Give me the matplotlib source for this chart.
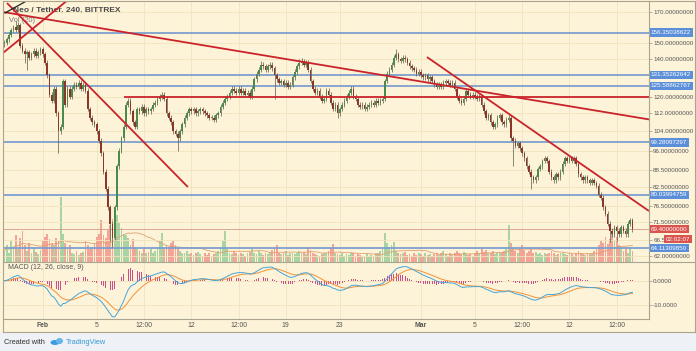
import numpy as np
import pandas as pd
import matplotlib
matplotlib.use('Agg')
import matplotlib.pyplot as plt
import matplotlib.transforms as mtransforms
from matplotlib.patches import Rectangle, Ellipse
from matplotlib.lines import Line2D
from matplotlib.ticker import FixedLocator, NullLocator

W, H = 696, 351

# 4h candles starting 2018-01-29 04:00 (NEO / USDT, Bittrex)
start_time = '2018-01-29 04:00'
first_open = 149
closes = [
    150, 152, 155, 158, 160, 158, 161, 148, 145, 143,
    144, 141, 143, 145, 142, 144, 146, 143, 138, 131,
    121, 118, 124, 112, 104, 106, 128, 116, 124, 120,
    124, 126, 125, 127, 124, 126, 123, 114, 110, 108,
    107, 104, 100, 95, 88, 82, 76, 71, 67, 76,
    90, 96, 101, 106, 116, 118, 113, 108, 106, 114,
    113, 115, 112, 114, 113, 114, 116, 117, 119, 120,
    121, 119, 112, 110, 108, 104, 103, 101, 104, 107,
    110, 112, 114, 113, 114, 112, 113, 114, 113, 112,
    111, 110, 110, 109, 111, 112, 115, 117, 119, 120,
    122, 124, 123, 122, 124, 122, 123, 121, 122, 120,
    124, 129, 132, 134, 137, 136, 134, 136, 137, 135,
    131, 129, 127, 128, 126, 127, 125, 126, 130, 133,
    136, 138, 139, 137, 138, 134, 128, 124, 122, 123,
    120, 118, 119, 123, 121, 117, 114, 116, 112, 114,
    116, 118, 120, 122, 124, 120, 119, 116, 115, 116,
    114, 115, 116, 117, 116, 118, 117, 118, 119, 128,
    132, 134, 137, 141, 143, 140, 139, 141, 140, 138,
    136, 135, 134, 132, 133, 131, 130, 131, 129, 130,
    128, 126, 125, 126, 125, 127, 128, 127, 126, 127,
    124, 120, 118, 117, 119, 123, 121, 120, 121, 120,
    119, 120, 116, 113, 110, 111, 108, 106, 107, 110,
    111, 108, 107, 109, 110, 101, 100, 98, 99, 97,
    95, 93, 90, 88, 86, 85, 86, 89, 90, 92,
    93, 92, 88, 86, 85, 87, 86, 88, 91, 93,
    92, 93, 92, 93, 91, 87, 86, 85, 86, 85,
    84, 85, 84, 83, 80, 79, 76, 74, 71, 69,
    68, 70, 69, 68, 70, 69, 68, 71, 72, 69.4,
]
# long wicks that stand out (candle index -> price)
wick_hi = {5: 164, 6: 163, 114: 139, 131: 140, 132: 141, 174: 146}
wick_lo = {9: 138, 10: 134, 24: 95, 47: 66, 48: 64.5, 77: 96, 120: 119,
           148: 110, 226: 90, 234: 82, 269: 65.8, 272: 66}
volumes = [
    12, 18, 10, 22, 15, 28, 14, 25, 33, 18,
    12, 20, 9, 16, 11, 8, 13, 22, 26, 29,
    24, 20, 18, 25, 22, 69, 30, 20, 15, 18,
    10, 8, 12, 7, 9, 11, 22, 18, 14, 16,
    20, 26, 30, 44, 28, 25, 34, 39, 45, 38,
    49, 42, 36, 30, 28, 25, 18, 24, 16, 14,
    12, 10, 15, 9, 11, 14, 10, 12, 16, 22,
    31, 14, 18, 16, 20, 22, 18, 15, 12, 10,
    9, 12, 8, 10, 7, 9, 11, 8, 6, 10,
    7, 9, 6, 8, 10, 12, 15, 22, 33, 14,
    10, 8, 12, 9, 7, 10, 8, 6, 9, 11,
    14, 10, 8, 12, 9, 7, 10, 8, 11, 13,
    15, 18, 10, 8, 9, 12, 7, 10, 9, 8,
    10, 12, 9, 11, 8, 15, 13, 10, 8, 7,
    6, 8, 10, 9, 12, 15, 19, 10, 8, 7,
    9, 6, 8, 7, 10, 9, 6, 8, 7, 5,
    6, 8, 5, 7, 6, 9, 10, 12, 16, 31,
    20, 14, 18, 21, 12, 10, 8, 9, 11, 7,
    8, 6, 9, 7, 10, 8, 6, 9, 7, 8,
    6, 8, 9, 7, 10, 12, 8, 6, 9, 7,
    9, 12, 10, 8, 11, 9, 7, 8, 6, 10,
    12, 9, 15, 11, 13, 10, 9, 12, 8, 10,
    9, 11, 12, 14, 39, 20, 15, 12, 10, 14,
    18, 13, 10, 12, 14, 9, 11, 8, 10, 7,
    9, 8, 10, 12, 9, 7, 8, 10, 9, 8,
    7, 9, 8, 6, 10, 12, 9, 8, 7, 9,
    8, 10, 12, 14, 18, 22, 20, 26, 19, 24,
    30, 22, 26, 18, 15, 12, 14, 10, 16, 12,
]

support_levels = [156.35038622, 131.35262642, 125.58862767,
                  99.28097297, 80.03994759, 64.11309850]
price_ticks = [170, 150, 140, 120, 112, 104, 96, 88.5, 82.5, 76.5, 71.5, 66.5, 62]
tick_times = ['2018-02-01 00:00', '2018-02-05 00:00', '2018-02-08 12:00',
              '2018-02-12 00:00', '2018-02-15 12:00', '2018-02-19 00:00',
              '2018-02-23 00:00', '2018-03-01 00:00', '2018-03-05 00:00',
              '2018-03-08 12:00', '2018-03-12 00:00', '2018-03-15 12:00']
tick_labels = ['Feb', '5', '12:00', '12', '12:00', '19', '23', 'Mar', '5', '12:00', '12', '12:00']
# user drawn trend lines: ((candle index, price), (candle index, price))
red_lines = [((-0.64, 170.2), (286.36, 109.2)),
             ((1.14, 176.6), (81.5, 82.6)),
             ((-0.64, 143.7), (28.2, 178.9)),
             ((53.1, 120.0), (286.36, 120.0)),
             ((187.7, 141.3), (286.36, 74.8))]
black_line = ((0.25, 169.5), (9.13, 177.5))
last_price = 69.4
countdown = '02:02:07'

BG = '#fdf3d8'
GRID = '#f3e3bd'
FRAME = '#aaa591'
UP, DOWN, WICK = '#4a8a4c', '#8a3628', '#6a6656'
VUP, VDOWN = '#a9d3a2', '#f2a596'
BLUE, RED = '#5b8fd9', '#d9534f'
LINE_RED, LINE_BLUE = '#c9242b', '#7d9fcf'
TXT = '#555555'
AXFS = 4.5
plt.rcParams['font.family'] = 'Liberation Sans'

fig = plt.figure(figsize=(W / 100, H / 100), dpi=100)
fig.patch.set_facecolor('#eef1f5')


def fx(px):
    return px / W


def fy(py):
    return 1 - py / H


fig.patches.append(Rectangle((0, fy(332)), fx(695), 332 / H, transform=fig.transFigure,
                             facecolor=BG, edgecolor='none', zorder=-5))

xlim = (-0.64, 286.36)
vol_ax = fig.add_axes([fx(3), fy(262), fx(646), 261 / H])
ax = fig.add_axes([fx(3), fy(262), fx(646), 261 / H], sharex=vol_ax)
macd_ax = fig.add_axes([fx(3), fy(319), fx(646), 57 / H], sharex=vol_ax)
vol_ax.set_facecolor(BG)
ax.patch.set_visible(False)
macd_ax.set_facecolor(BG)

n = len(closes)
x = np.arange(n)
c = np.array(closes, dtype=float)
o = np.array([first_open] + closes[:-1], dtype=float)
up = c >= o
hi = np.maximum(o, c) * 1.01
lo = np.minimum(o, c) * 0.99
for k, v in wick_hi.items():
    hi[k] = v
for k, v in wick_lo.items():
    lo[k] = v

t0 = pd.Timestamp(start_time)
tick_pos = (pd.to_datetime(tick_times) - t0) / pd.Timedelta(hours=4)

# volume
vol = np.array(volumes, dtype=float)
vol_ax.bar(x, vol, width=0.8, color=np.where(up, VUP, VDOWN), linewidth=0)
vol_ma = pd.Series(vol).rolling(20, min_periods=1).mean()
vol_ax.plot(x, vol_ma, color='#e0a070', lw=0.6)
vol_ax.set_ylim(0, 275)
vol_ax.yaxis.set_visible(False)
vol_ax.set_xticks(tick_pos)
vol_ax.grid(True, axis='x', color=GRID, lw=0.6)
vol_ax.set_axisbelow(True)
vol_ax.tick_params(axis='x', length=0, labelbottom=False)

# price panel
ax.set_yscale('log')
ax.set_ylim(60.6, 178.1)
ax.set_xlim(*xlim)
ax.yaxis.tick_right()
ax.yaxis.set_major_locator(FixedLocator(price_ticks))
ax.yaxis.set_minor_locator(NullLocator())
ax.set_yticklabels([f'{p:.8f}' for p in price_ticks])
ax.tick_params(axis='y', length=2, width=0.6, pad=1, color=FRAME, labelsize=AXFS, labelcolor=TXT)
ax.tick_params(axis='x', length=0, labelbottom=False)
ax.grid(True, axis='y', color=GRID, lw=0.6)
for lvl in support_levels:
    ax.axhline(lvl, color=LINE_BLUE, lw=1.3, zorder=2)
ax.axhline(last_price, color='#d69a8a', lw=0.6, zorder=2)

ax.vlines(x, lo, hi, color=WICK, lw=0.55, zorder=3)
body_h = np.maximum(np.abs(c - o), 0.15)
ax.bar(x, body_h, bottom=np.minimum(o, c), width=0.72,
       color=np.where(up, UP, DOWN), linewidth=0, zorder=4)

for (x1, y1), (x2, y2) in red_lines:
    ax.plot([x1, x2], [y1, y2], color=LINE_RED, lw=1.3, zorder=5, solid_capstyle='butt')
(bx1, by1), (bx2, by2) = black_line
ax.plot([bx1, bx2], [by1, by2], color='#222222', lw=0.9, zorder=5)

ax.text(0.015, 0.966, 'Neo / Tether, 240, BITTREX', transform=ax.transAxes, fontsize=6.0,
        fontweight='bold', color='#4a4a4a', va='center', zorder=1)
ax.text(0.009, 0.927, 'Vol (20)', transform=ax.transAxes, fontsize=5.4,
        color='#777777', va='center', zorder=1)

blend = mtransforms.blended_transform_factory(ax.transAxes, ax.transData)
for lvl in support_levels:
    ax.text(1.003, lvl, f'{lvl:.8f}', transform=blend, fontsize=AXFS, color='white',
            va='center', ha='left', zorder=10,
            bbox=dict(boxstyle='square,pad=0.25', fc=BLUE, ec='none'))
ax.text(1.003, last_price, f'{last_price:.8f}', transform=blend, fontsize=AXFS, color='white',
        va='center', ha='left', zorder=10,
        bbox=dict(boxstyle='square,pad=0.25', fc=RED, ec='none'))
ax.annotate(countdown, xy=(1.0, last_price), xycoords=blend, xytext=(12, -7.2),
            textcoords='offset points', fontsize=AXFS, color='white', va='center', ha='left',
            annotation_clip=False, zorder=10,
            bbox=dict(boxstyle='square,pad=0.25', fc=RED, ec='none'))

# MACD panel
s = pd.Series(c)
macd = s.ewm(span=12, adjust=False).mean() - s.ewm(span=26, adjust=False).mean()
signal = macd.ewm(span=9, adjust=False).mean()
hist = macd - signal
macd_ax.bar(x, hist, width=0.4, color='#c9508a', linewidth=0)
macd_ax.plot(x, signal, color='#f39237', lw=0.7)
macd_ax.plot(x, macd, color='#45a5d8', lw=0.7)
macd_ax.set_ylim(-15.57, 7.6)
macd_ax.yaxis.tick_right()
macd_ax.set_yticks([0, -10])
macd_ax.set_yticklabels(['0.0000', '-10.0000'])
macd_ax.tick_params(axis='y', length=2, width=0.6, pad=1, color=FRAME, labelsize=AXFS, labelcolor=TXT)
macd_ax.set_xticks(tick_pos)
macd_ax.set_xticklabels(tick_labels)
macd_ax.tick_params(axis='x', length=0, pad=2.5, labelsize=4.9, labelcolor=TXT)
for lab in macd_ax.get_xticklabels():
    if lab.get_text() in ('Feb', 'Mar'):
        lab.set_fontweight('bold')
macd_ax.grid(True, color=GRID, lw=0.6)
macd_ax.set_axisbelow(True)
macd_ax.set_xlim(*xlim)
macd_ax.text(0.008, 0.9, 'MACD (12, 26, close, 9)', transform=macd_ax.transAxes,
             fontsize=5.0, color=TXT, va='center')

for a in (vol_ax, ax, macd_ax):
    for sp in a.spines.values():
        sp.set_visible(False)

# frame lines
frame = [((3, 1), (695, 1)), ((3, 1), (3, 332)), ((695, 1), (695, 332)),
         ((3, 332), (695, 332)), ((649, 1), (649, 319)), ((3, 262), (695, 262)),
         ((3, 319), (649, 319))]
for (x1, y1), (x2, y2) in frame:
    fig.lines.append(Line2D([fx(x1), fx(x2)], [fy(y1), fy(y2)], transform=fig.transFigure,
                            color=FRAME, lw=0.8, zorder=6))

# footer
fig.text(fx(4), fy(342), 'Created with', fontsize=5.3, color='#333333', va='center')
fig.patches.append(Ellipse((fx(55), fy(342.5)), fx(9), 5 / H, transform=fig.transFigure,
                           facecolor='#3d9be0', edgecolor='none'))
fig.patches.append(Ellipse((fx(59.5), fy(341)), fx(7), 6 / H, transform=fig.transFigure,
                           facecolor='#67b5ea', edgecolor='none'))
fig.text(fx(66), fy(342), 'TradingView', fontsize=5.3, color='#3a9ad9', va='center')

fig.savefig('out.png', dpi=100, facecolor=fig.get_facecolor())
